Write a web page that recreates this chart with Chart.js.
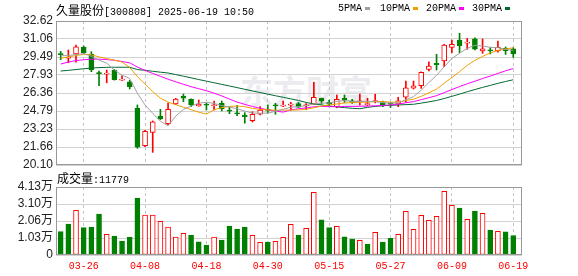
<!DOCTYPE html>
<html><head><meta charset="utf-8">
<script src="https://cdn.jsdelivr.net/npm/chart.js@4/dist/chart.umd.min.js"></script>
<style>
html,body{margin:0;padding:0;background:#fff;}
#wrap{position:relative;width:578px;height:276px;overflow:hidden;background:#fff;}
canvas{position:absolute;left:0;top:0;}
.t{position:absolute;white-space:nowrap;line-height:12px;color:#000;}
.cjk{font-size:12px;font-family:"Noto Sans CJK SC";}
.mono{font-size:10px;font-family:"Liberation Mono";}
.sq{position:absolute;width:5px;height:3px;}
</style></head>
<body><div id="wrap">
<div id="wm" class="t" style="left:240px;top:72px;font:bold 33px 'Noto Sans CJK SC';color:#ececf0;line-height:36px;">东方财富</div>
<canvas id="main" width="578" height="276"></canvas>
<canvas id="vol" width="578" height="276"></canvas>
<div class="t" style="left:56px;top:4px;"><span class="cjk">久量股份</span><span class="mono">[300808] 2025-06-19 10:50</span></div>
<div class="t mono" style="left:338px;top:3px;">5PMA</div><div class="sq" style="left:365px;top:7px;background:#a0a0a0"></div>
<div class="t mono" style="left:380px;top:3px;">10PMA</div><div class="sq" style="left:413px;top:7px;background:#f0a000"></div>
<div class="t mono" style="left:426px;top:3px;">20PMA</div><div class="sq" style="left:459px;top:7px;background:#ff00ff"></div>
<div class="t mono" style="left:472px;top:3px;">30PMA</div><div class="sq" style="left:505px;top:7px;background:#006a30"></div>
<div class="t" style="left:57px;top:172px;"><span class="cjk">成交量</span><span class="mono">:11779</span></div>
</div>
<script>
const dates = ['03-21','03-24','03-25','03-26','03-27','03-28','03-31','04-01','04-02','04-03','04-07','04-08','04-09','04-10','04-11','04-14','04-15','04-16','04-17','04-18','04-21','04-22','04-23','04-24','04-25','04-28','04-29','04-30','05-06','05-07','05-08','05-09','05-12','05-13','05-14','05-15','05-16','05-19','05-20','05-21','05-22','05-23','05-26','05-27','05-28','05-29','05-30','06-03','06-04','06-05','06-06','06-09','06-10','06-11','06-12','06-13','06-16','06-17','06-18','06-19'];
const tickDates = ['03-26','04-08','04-18','04-30','05-15','05-27','06-09','06-19'];
const open  = [29.75,29.38,29.75,30.36,29.75,28.12,28.00,28.36,27.48,27.34,25.03,21.78,22.94,24.36,23.70,25.40,26.07,25.81,25.23,25.35,25.25,25.46,24.82,24.60,24.45,23.95,24.51,24.90,25.28,25.22,25.30,25.45,25.25,25.38,25.90,25.55,25.17,25.90,25.69,25.60,25.35,25.62,25.52,25.43,25.40,25.99,26.77,26.99,28.42,28.94,29.14,30.33,30.97,30.70,31.06,30.01,30.08,30.03,30.25,30.19];
const high  = [29.98,30.10,30.53,30.45,29.95,28.27,28.36,28.42,27.86,27.46,25.32,23.12,23.93,24.94,25.49,25.90,26.27,25.85,25.75,25.46,25.66,25.66,25.12,25.26,24.65,24.73,25.17,25.32,25.46,25.66,25.55,25.55,25.45,27.29,25.92,25.75,26.19,26.19,25.81,26.27,25.90,26.25,25.66,25.55,25.99,27.40,27.40,28.20,29.08,29.72,30.60,30.97,31.55,31.11,31.15,31.06,30.30,30.88,30.36,30.30];
const low   = [29.25,28.99,29.03,29.80,28.21,26.99,27.25,27.48,27.45,26.71,21.55,21.69,21.20,24.05,23.60,25.35,25.60,25.18,25.20,24.88,24.88,24.80,24.56,24.39,23.73,23.84,24.45,24.60,24.51,25.17,24.88,25.10,24.90,25.35,25.38,25.25,25.08,25.55,25.46,25.32,25.25,25.50,25.17,25.10,25.17,25.55,26.70,26.77,28.27,28.36,28.65,29.86,29.86,30.16,30.10,29.81,29.75,29.90,29.72,29.46];
const close = [29.70,29.45,30.38,29.86,28.36,28.05,28.08,27.52,27.52,26.91,21.64,23.03,23.86,24.10,24.94,25.84,25.90,25.32,25.38,25.30,25.33,24.97,24.78,24.55,24.30,24.51,24.88,24.85,25.25,25.28,25.35,25.12,25.30,25.99,25.66,25.38,25.81,25.73,25.55,25.66,25.40,25.68,25.32,25.38,25.69,26.82,26.99,28.16,28.71,28.82,30.53,30.59,30.47,30.78,30.16,30.19,30.03,30.33,30.03,29.75];
const ma5  = [29.60,29.62,29.70,29.78,29.55,29.22,28.95,28.37,27.91,27.62,26.33,25.32,24.59,23.91,23.51,24.35,24.93,25.22,25.48,25.55,25.45,25.26,25.15,24.99,24.79,24.62,24.60,24.62,24.76,24.95,25.12,25.17,25.26,25.41,25.48,25.49,25.63,25.71,25.63,25.63,25.63,25.60,25.52,25.49,25.49,25.78,26.04,26.61,27.27,27.90,28.64,29.36,29.82,30.24,30.51,30.44,30.33,30.30,30.15,30.07];
const ma10 = [29.38,29.50,29.62,29.72,29.68,29.50,29.35,29.22,29.05,28.58,27.78,27.14,26.48,25.91,25.57,25.34,25.13,24.91,24.69,24.53,24.90,25.09,25.19,25.23,25.17,25.03,24.93,24.89,24.87,24.87,24.87,24.89,24.94,25.08,25.22,25.31,25.40,25.49,25.52,25.56,25.56,25.62,25.62,25.56,25.56,25.70,25.82,26.07,26.38,26.70,27.21,27.70,28.22,28.76,29.20,29.54,29.84,30.06,30.19,30.29];
const ma20 = [28.88,29.05,29.18,29.25,29.30,29.30,29.27,29.20,29.10,28.98,28.62,28.33,28.06,27.81,27.56,27.33,27.12,26.91,26.73,26.56,26.34,26.11,25.83,25.57,25.37,25.19,25.03,24.90,24.78,24.70,24.89,24.99,25.06,25.16,25.19,25.17,25.17,25.19,25.19,25.21,25.22,25.25,25.28,25.32,25.39,25.51,25.61,25.78,25.95,26.13,26.39,26.66,26.92,27.16,27.38,27.62,27.83,28.06,28.29,28.49];
const ma30 = [28.27,28.33,28.40,28.47,28.53,28.57,28.59,28.60,28.60,28.60,28.40,28.33,28.25,28.17,28.10,27.96,27.82,27.68,27.53,27.39,27.25,27.11,26.97,26.83,26.68,26.54,26.40,26.26,26.12,25.99,25.85,25.71,25.54,25.41,25.32,25.23,25.15,25.09,25.03,24.99,25.11,25.20,25.25,25.29,25.32,25.35,25.38,25.48,25.59,25.71,25.88,26.07,26.26,26.47,26.66,26.85,27.02,27.20,27.36,27.51];
const volume = [14200,18800,27100,16600,17000,24900,12600,11500,8500,10900,34600,24300,24300,20500,17000,10900,13200,12100,8000,6100,10900,9100,17600,15800,17000,12000,7700,7900,8300,10700,18600,12100,16200,38100,21300,16600,17400,11100,9700,8900,6700,13800,7900,10100,12600,26500,15600,24100,21100,23500,38700,30200,28500,21700,26700,25300,15200,14400,14000,11779];
const volUp = [0,0,1,0,0,0,1,0,0,0, 0,1,1,1,1,1,1,0,0,0, 1,0,0,0,0,1,1,0,1,1, 1,0,1,1,0,0,1,0,0,1, 0,1,0,0,1,1,1,1,1,1, 1,1,0,1,0,1,0,1,0,0];
const priceTicks = ['20.10','21.66','23.23','24.79','26.36','27.93','29.49','31.06','32.62'];
const volTicks = ['0','1.03万','2.06万','3.10万','4.13万'];
const volMax = 41300;

const RED = '#ff0000', GREEN = '#008000';
const tickIdx = tickDates.map(d => dates.indexOf(d));
Chart.defaults.font.family = '"Liberation Sans", Arial, "Noto Sans CJK SC"';
Chart.defaults.font.size = 12;

const framePlugin = {
  id: 'frame',
  afterDraw(chart) {
    const {ctx, chartArea: a} = chart;
    ctx.save();
    ctx.strokeStyle = '#999999';
    ctx.lineWidth = 1;
    const l = Math.round(a.left), t = Math.round(a.top), r = Math.round(a.right), b = Math.round(a.bottom);
    ctx.strokeRect(l + 0.5, t + 0.5, r - l - 1, b - t - 1);
    ctx.restore();
  }
};

const xBase = (showLabels, h) => ({
  type: 'linear', min: -0.61, max: 60.14, offset: false,
  afterFit: s => { s.height = h; },
  afterBuildTicks: s => { s.ticks = tickIdx.map(v => ({value: v})); },
  ticks: {display: showLabels, autoSkip: false, maxRotation: 0, padding: 5, color: RED,
          font: {family: '"Liberation Mono"', size: 10},
          callback: (v, i) => tickDates[i]},
  grid: {color: '#c4c4c4', drawTicks: false, lineWidth: 1, offset: false},
  border: {display: false, dash: [3, 3]}
});

const isUp = i => close[i] >= open[i];
const maLine = (label, arr, color, ord) => ({
  type: 'line', label, data: arr.map((v, i) => ({x: i, y: v})),
  borderColor: color, borderWidth: 1, pointRadius: 0, fill: false, tension: 0, order: ord
});

new Chart(document.getElementById('main'), {
  type: 'bar',
  data: {datasets: [
    maLine('5PMA', ma5, '#a0a0a0', 0),
    maLine('10PMA', ma10, '#f0a000', 1),
    maLine('20PMA', ma20, '#ff00ff', 2),
    maLine('30PMA', ma30, '#006a30', 3),
    {label: 'body', data: open.map((o, i) => ({x: i, y: [o, close[i]]})), order: 4,
     barThickness: 5, grouped: false, minBarLength: 1, borderSkipped: false, borderWidth: 1,
     backgroundColor: c => isUp(c.dataIndex) ? '#ffffff' : GREEN,
     borderColor: c => isUp(c.dataIndex) ? RED : GREEN},
    {label: 'wick', data: low.map((l, i) => ({x: i, y: [l, high[i]]})), order: 5,
     barThickness: 1, grouped: false, borderWidth: 0,
     backgroundColor: c => isUp(c.dataIndex) ? RED : GREEN}
  ]},
  options: {
    responsive: false, animation: false, devicePixelRatio: 1,
    layout: {padding: {left: 0, right: 56, top: 21, bottom: 111}},
    plugins: {legend: {display: false}, tooltip: {enabled: false}},
    scales: {
      x: xBase(false, 0),
      y: {min: 20.10, max: 32.62,
          afterFit: s => { s.width = 56; },
          afterBuildTicks: s => { s.ticks = priceTicks.map(v => ({value: parseFloat(v)})); },
          ticks: {color: '#222', padding: 3, autoSkip: false, callback: (v, i) => priceTicks[i]},
          grid: {color: '#d2d2d2', drawTicks: false},
          border: {display: false}}
    }
  },
  plugins: [framePlugin]
});

new Chart(document.getElementById('vol'), {
  type: 'bar',
  data: {datasets: [
    {label: 'vol', data: volume.map((v, i) => ({x: i, y: v})),
     barThickness: 5, grouped: false, borderSkipped: false, borderWidth: 1,
     backgroundColor: c => volUp[c.dataIndex] ? '#ffffff' : GREEN,
     borderColor: c => volUp[c.dataIndex] ? RED : GREEN}
  ]},
  options: {
    responsive: false, animation: false, devicePixelRatio: 1,
    layout: {padding: {left: 0, right: 56, top: 187, bottom: 0}},
    plugins: {legend: {display: false}, tooltip: {enabled: false}},
    scales: {
      x: xBase(true, 21),
      y: {min: 0, max: volMax,
          afterFit: s => { s.width = 56; },
          afterBuildTicks: s => { s.ticks = volTicks.map((t, i) => ({value: volMax * i / (volTicks.length - 1)})); },
          ticks: {color: '#222', padding: 3, autoSkip: false, callback: (v, i) => volTicks[i]},
          grid: {color: '#d2d2d2', drawTicks: false},
          border: {display: false}}
    }
  },
  plugins: [framePlugin]
});
</script>
</body></html>
